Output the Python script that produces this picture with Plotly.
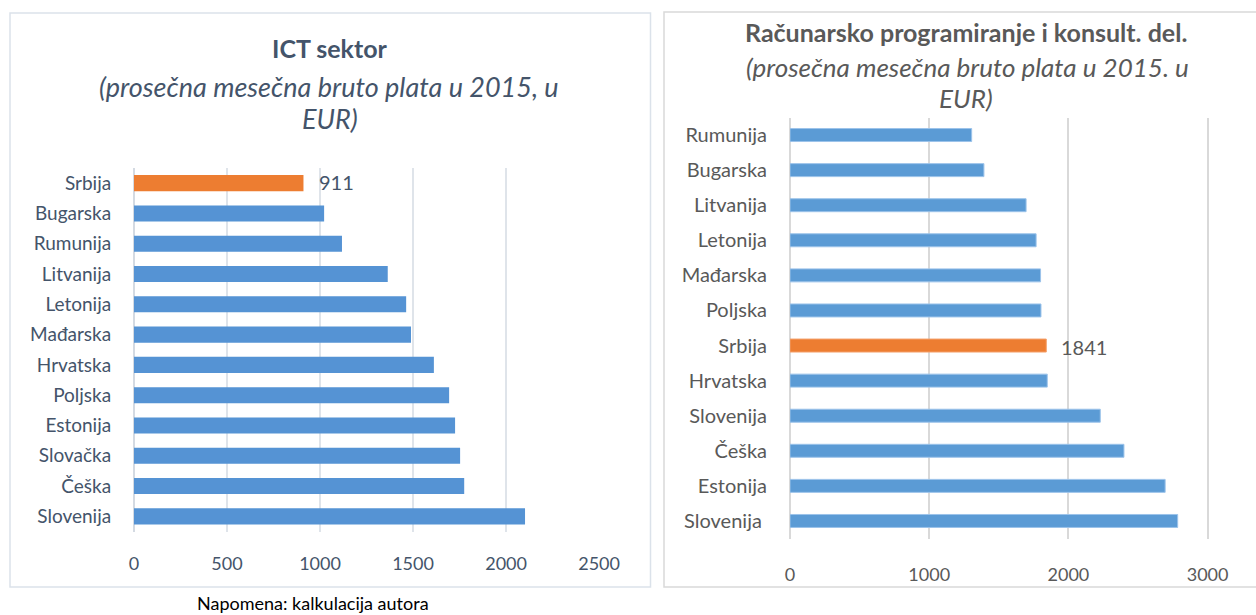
import plotly.graph_objects as go

# ---- data ----
ict_countries = ["Srbija", "Bugarska", "Rumunija", "Litvanija", "Letonija", "Mađarska",
                 "Hrvatska", "Poljska", "Estonija", "Slovačka", "Češka", "Slovenija"]
ict_values = [911, 1022, 1118, 1364, 1463, 1489, 1612, 1694, 1726, 1753, 1775, 2102]

prog_countries = ["Rumunija", "Bugarska", "Litvanija", "Letonija", "Mađarska", "Poljska",
                  "Srbija", "Hrvatska", "Slovenija", "Češka", "Estonija", "Slovenija "]
prog_values = [1305, 1393, 1696, 1768, 1800, 1803, 1841, 1848, 2229, 2399, 2695, 2785]

highlight = "Srbija"
left_ticks = [0, 500, 1000, 1500, 2000, 2500]
right_ticks = [0, 1000, 2000, 3000]

W, H = 1256, 615
BLUE_L = "#5593d4"
BLUE_R = "#5b9bd5"
ORANGE = "#ed7d31"
LEFT_TXT = "#44546a"
RIGHT_TXT = "#595959"
FONT = "Lato"

fig = go.Figure()

fig.add_trace(go.Bar(
    x=ict_values, y=ict_countries, orientation="h", width=0.53,
    marker=dict(color=[ORANGE if c == highlight else BLUE_L for c in ict_countries], line=dict(width=0)),
    xaxis="x", yaxis="y", showlegend=False, hoverinfo="x+y"))

fig.add_trace(go.Bar(
    x=prog_values, y=prog_countries, orientation="h", width=0.37,
    marker=dict(color=[ORANGE if c == highlight else BLUE_R for c in prog_countries],
                line=dict(width=1, color=["#f4a06a" if c == highlight else "#9cc3ea" for c in prog_countries])),
    xaxis="x2", yaxis="y2", showlegend=False, hoverinfo="x+y"))

def px(x):
    return x / W

def py(y):
    return 1 - y / H

annotations = []
# data labels
for c, v in zip(ict_countries, ict_values):
    if c == highlight:
        annotations.append(dict(x=v, y=c, xref="x", yref="y", text=str(v), showarrow=False,
                                xanchor="left", xshift=14, yshift=1, font=dict(family=FONT, size=20, color=LEFT_TXT)))
for c, v in zip(prog_countries, prog_values):
    if c == highlight:
        annotations.append(dict(x=v, y=c, xref="x2", yref="y2", text=str(v), showarrow=False,
                                xanchor="left", xshift=13, yshift=-1, font=dict(family=FONT, size=20, color=RIGHT_TXT)))

def title(xc, yc, text, size, color):
    annotations.append(dict(x=px(xc), y=py(yc), xref="paper", yref="paper", showarrow=False,
                            xanchor="center", yanchor="middle", text=text,
                            font=dict(family=FONT, size=size, color=color)))

title(330, 48, "<b>ICT sektor</b>", 25, LEFT_TXT)
title(329, 86, "<i>(prosečna mesečna bruto plata u 2015, u</i>", 27, LEFT_TXT)
title(330, 118, "<i>EUR)</i>", 27, LEFT_TXT)

title(966, 32, "<b>Računarsko programiranje i konsult. del.</b>", 25, RIGHT_TXT)
title(967, 67, "<i>(prosečna mesečna bruto plata u 2015. u</i>", 26, RIGHT_TXT)
title(966, 98, "<i>EUR)</i>", 26, RIGHT_TXT)

title(313, 603, "Napomena: kalkulacija autora", 18, "#000000")

shapes = [
    dict(type="rect", xref="paper", yref="paper", x0=px(10), x1=px(650.5), y0=py(587), y1=py(13),
         line=dict(color="#dbe2ea", width=1.5), fillcolor="rgba(0,0,0,0)", layer="below"),
    dict(type="rect", xref="paper", yref="paper", x0=px(664), x1=px(1258), y0=py(587), y1=py(12),
         line=dict(color="#d9d9d9", width=1.5), fillcolor="rgba(0,0,0,0)", layer="below"),
]

fig.update_layout(
    width=W, height=H,
    margin=dict(l=0, r=0, t=0, b=0, pad=0),
    paper_bgcolor="white", plot_bgcolor="white",
    annotations=annotations, shapes=shapes,
    xaxis=dict(domain=[px(134), px(600)], range=[0, 2505], tickvals=left_ticks,
               showgrid=True, gridcolor="#dfe4ea", gridwidth=1.5, zeroline=True, zerolinecolor="#d4dae2",
               zerolinewidth=1.5, showline=False, ticks="outside", ticklen=16, tickcolor="rgba(0,0,0,0)",
               tickfont=dict(family=FONT, size=18, color=LEFT_TXT), anchor="y", fixedrange=True,
               automargin=False),
    yaxis=dict(domain=[py(531.5), py(168)], autorange="reversed", type="category",
               showgrid=False, showline=False, ticks="outside", ticklen=18, tickcolor="rgba(0,0,0,0)",
               tickfont=dict(family=FONT, size=19, color=LEFT_TXT), anchor="x", fixedrange=True,
               automargin=False),
    xaxis2=dict(domain=[px(790), px(1209)], range=[0, 3010], tickvals=right_ticks,
                showgrid=True, gridcolor="#d9d9d9", gridwidth=1.5, zeroline=True, zerolinecolor="#d9d9d9",
                zerolinewidth=1.5, showline=False, ticks="outside", ticklen=20, tickcolor="rgba(0,0,0,0)",
                tickfont=dict(family=FONT, size=18, color=RIGHT_TXT), anchor="y2", fixedrange=True,
                automargin=False),
    yaxis2=dict(domain=[py(538.5), py(117.5)], autorange="reversed", type="category",
                showgrid=False, showline=False, ticks="outside", ticklen=18, tickcolor="rgba(0,0,0,0)",
                tickfont=dict(family=FONT, size=20, color=RIGHT_TXT), anchor="x2", fixedrange=True,
                automargin=False),
)

fig.write_html("out.html", config={"displayModeBar": False},
               post_script="document.body.style.margin='0px';")
